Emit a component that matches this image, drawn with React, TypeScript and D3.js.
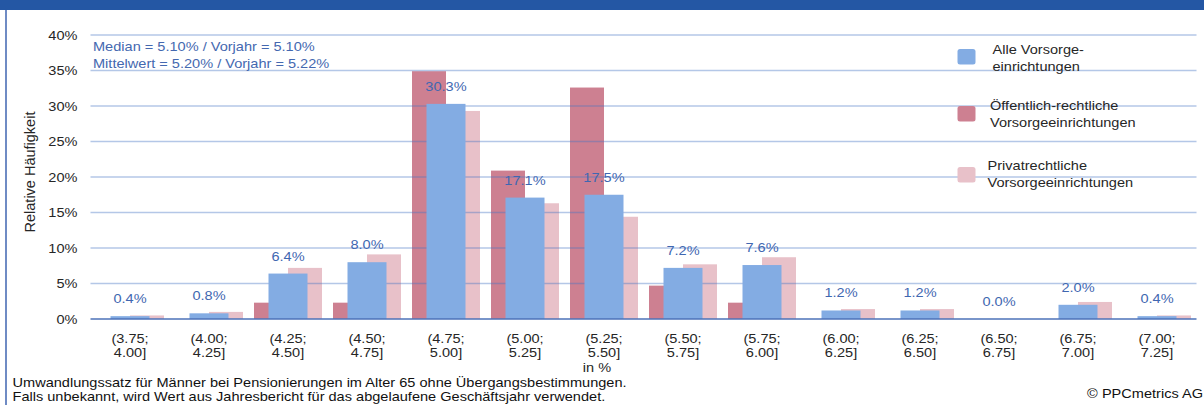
import React from "react";
import * as d3 from "d3";

// Intervals of the conversion rate (in %)
const categories = [
  "(3.75; 4.00]", "(4.00; 4.25]", "(4.25; 4.50]", "(4.50; 4.75]", "(4.75; 5.00]",
  "(5.00; 5.25]", "(5.25; 5.50]", "(5.50; 5.75]", "(5.75; 6.00]", "(6.00; 6.25]",
  "(6.25; 6.50]", "(6.50; 6.75]", "(6.75; 7.00]", "(7.00; 7.25]",
];

// Relative frequency in %
const allValues = [0.4, 0.8, 6.4, 8.0, 30.3, 17.1, 17.5, 7.2, 7.6, 1.2, 1.2, 0.0, 2.0, 0.4];
const publicValues = [0, 0, 2.3, 2.3, 34.9, 20.9, 32.6, 4.7, 2.3, 0, 0, 0, 0, 0];
const privateValues = [0.5, 1.0, 7.2, 9.1, 29.3, 16.3, 14.4, 7.7, 8.7, 1.4, 1.4, 0, 2.4, 0.5];

const yTicks = [0, 5, 10, 15, 20, 25, 30, 35, 40];

const seriesNames = [
  ["Alle Vorsorge-", "einrichtungen"],
  ["Öffentlich-rechtliche", "Vorsorgeeinrichtungen"],
  ["Privatrechtliche", "Vorsorgeeinrichtungen"],
];

const statLines = [
  "Median = 5.10% / Vorjahr = 5.10%",
  "Mittelwert = 5.20% / Vorjahr = 5.22%",
];

const footerLines = [
  "Umwandlungssatz für Männer bei Pensionierungen im Alter 65 ohne Übergangsbestimmungen.",
  "Falls unbekannt, wird Wert aus Jahresbericht für das abgelaufene Geschäftsjahr verwendet.",
];

const FONT = "'Liberation Sans', Arial, Helvetica, sans-serif";
const C_ALL = "#83ace3";
const C_PUB = "#cd8091";
const C_PRIV = "#e8c1c9";
const C_LABEL = "#3f67b1";
const C_TEXT = "#262626";
const SX = 1.12;

type TProps = {
  x: number;
  y: number;
  anchor?: "start" | "middle" | "end";
  size?: number;
  fill?: string;
  children: React.ReactNode;
};

function T({ x, y, anchor = "start", size = 13, fill = C_TEXT, children }: TProps) {
  return (
    <text
      transform={`translate(${x},${y}) scale(${SX},1)`}
      textAnchor={anchor}
      fontSize={size}
      fill={fill}
      fontFamily={FONT}
    >
      {children}
    </text>
  );
}

export default function App() {
  const width = 1204;
  const height = 405;
  const left = 90.5;
  const right = 1196.5;

  const x = d3.scaleBand<string>().domain(categories).range([left, right]).padding(0);
  const y = d3.scaleLinear().domain([0, 40]).range([319, 35]);
  const bw = x.bandwidth();
  const sub = d3
    .scaleBand<string>()
    .domain(["pub", "priv"])
    .range([0, bw])
    .paddingInner(0)
    .paddingOuter(5.5 / 34);
  const allW = bw * (39 / 79);

  return (
    <svg
      width={width}
      height={height}
      style={{ position: "absolute", left: 0, top: 0, display: "block", background: "#fff" }}
    >
      {/* header band and frame */}
      <rect x={0} y={0} width={width} height={10} fill="#2457a4" />
      <line x1={6} x2={6} y1={10} y2={height} stroke="#3f64b0" strokeWidth={1.5} />

      {/* primary series: public and private institutions */}
      {categories.map((c, i) => (
        <g key={"p" + c}>
          {publicValues[i] > 0 && (
            <rect
              x={(x(c) as number) + (sub("pub") as number)}
              y={y(publicValues[i])}
              width={sub.bandwidth()}
              height={y(0) - y(publicValues[i])}
              fill={C_PUB}
            />
          )}
          {privateValues[i] > 0 && (
            <rect
              x={(x(c) as number) + (sub("priv") as number)}
              y={y(privateValues[i])}
              width={sub.bandwidth()}
              height={y(0) - y(privateValues[i])}
              fill={C_PRIV}
            />
          )}
        </g>
      ))}

      {/* gridlines */}
      {yTicks.filter((t) => t > 0).map((t) => (
        <line
          key={"g" + t}
          x1={left}
          x2={right}
          y1={y(t)}
          y2={y(t)}
          stroke="#4472c4"
          strokeOpacity={0.4}
          strokeWidth={1.5}
        />
      ))}

      {/* all institutions */}
      {categories.map((c, i) => (
        <rect
          key={"a" + c}
          x={(x(c) as number) + (bw - allW) / 2}
          y={y(allValues[i])}
          width={allW}
          height={y(0) - y(allValues[i])}
          fill={C_ALL}
        />
      ))}

      {/* zero axis */}
      <line x1={left} x2={right} y1={y(0)} y2={y(0)} stroke="#4d72b8" strokeWidth={1.5} />

      {/* data labels */}
      {categories.map((c, i) => (
        <T key={"l" + c} x={(x(c) as number) + bw / 2} y={y(allValues[i]) - 13} anchor="middle" fill={C_LABEL}>
          {allValues[i].toFixed(1) + "%"}
        </T>
      ))}

      {/* y ticks */}
      {yTicks.map((t) => (
        <T key={"t" + t} x={77.5} y={y(t) + 4.5} anchor="end">
          {t + "%"}
        </T>
      ))}

      {/* y title */}
      <text
        transform="translate(34.5,172) rotate(-90)"
        textAnchor="middle"
        fontSize={14.5}
        fill={C_TEXT}
        fontFamily={FONT}
      >
        Relative Häufigkeit
      </text>

      {/* x tick labels */}
      {categories.map((c) => {
        const [a, b] = c.split(" ");
        const cx = (x(c) as number) + bw / 2;
        return (
          <g key={"x" + c}>
            <T x={cx} y={343} anchor="middle">{a}</T>
            <T x={cx} y={356.5} anchor="middle">{b}</T>
          </g>
        );
      })}
      <T x={597} y={372} anchor="middle">in %</T>

      {/* statistics */}
      {statLines.map((s, i) => (
        <T key={"s" + i} x={93} y={51 + i * 16.5} fill="#4468b0">{s}</T>
      ))}

      {/* legend */}
      {seriesNames.map((lines, i) => {
        const sy = [49, 106, 167][i];
        const tx = [992.5, 990, 987.5][i];
        const ty = [54, 110, 170][i];
        const col = [C_ALL, C_PUB, C_PRIV][i];
        return (
          <g key={"lg" + i}>
            <rect x={957.5} y={sy} width={18} height={15.5} rx={2.5} fill={col} />
            {lines.map((ln, j) => (
              <T key={j} x={tx} y={ty + j * 16.5}>{ln}</T>
            ))}
          </g>
        );
      })}

      {/* footer */}
      {footerLines.map((s, i) => (
        <T key={"f" + i} x={12.5} y={387 + i * 13.5} fill="#111">{s}</T>
      ))}
      <T x={1203} y={398} anchor="end" fill="#111">© PPCmetrics AG</T>
    </svg>
  );
}
